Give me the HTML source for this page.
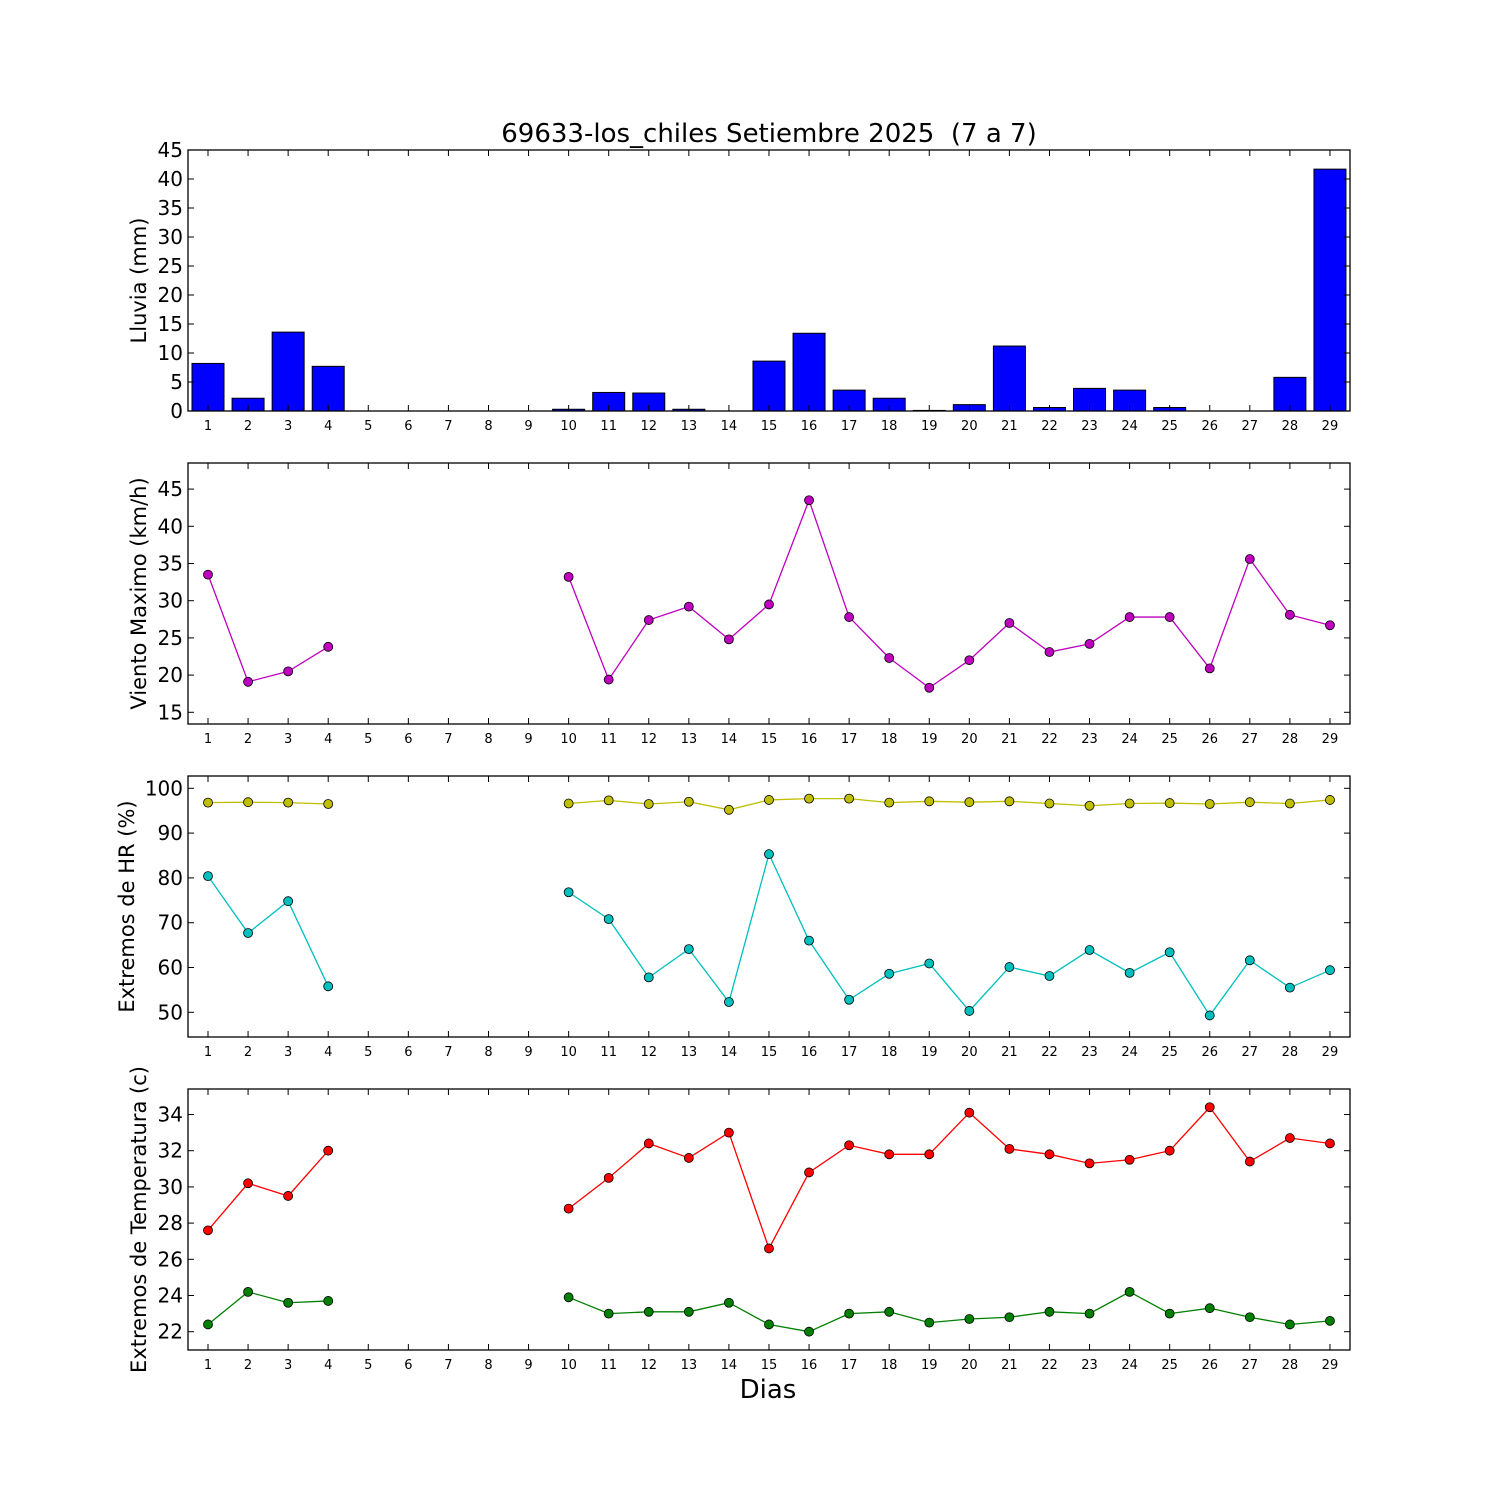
<!DOCTYPE html>
<html><head><meta charset="utf-8"><style>
html,body{margin:0;padding:0;background:#fff;}
svg{display:block;font-family:"DejaVu Sans","Liberation Sans",sans-serif;}
</style></head><body>
<svg id="s" width="1500" height="1500" xmlns="http://www.w3.org/2000/svg"></svg>
<script>
const s=document.getElementById('s');let h='';
const X=d=>208+(d-1)*40.07, L=188,R=1350;
h+='<rect width="1500" height="1500" fill="#fff"/>';
h+='<text x="769" y="142" font-size="26" text-anchor="middle">69633-los_chiles Setiembre 2025 &#160;(7 a 7)</text>';
h+='<text x="768" y="1398" font-size="26" text-anchor="middle">Dias</text>';
function panel(top,bot,ticks,yf,label,lx){
  for(const t of ticks){const y=yf(t);
    h+=`<line x1="${L}" x2="${L+6}" y1="${y}" y2="${y}" stroke="#000"/><line x1="${R-6}" x2="${R}" y1="${y}" y2="${y}" stroke="#000"/>`;
    h+=`<text x="${L-5}" y="${y+7}" font-size="20" text-anchor="end">${t}</text>`;}
  for(let d=1;d<=29;d++){const x=X(d);
    h+=`<line x1="${x}" x2="${x}" y1="${bot}" y2="${bot-6}" stroke="#000"/><line x1="${x}" x2="${x}" y1="${top}" y2="${top+6}" stroke="#000"/>`;
    h+=`<text x="${x}" y="${bot+19}" font-size="13" text-anchor="middle">${d}</text>`;}
  const cy=(top+bot)/2;
  h+=`<text transform="translate(${lx},${cy}) rotate(-90)" font-size="21" text-anchor="middle">${label}</text>`;
}
function frame(top,bot){h+=`<rect x="${L}" y="${top}" width="${R-L}" height="${bot-top}" fill="none" stroke="#000" stroke-width="1.3"/>`;}
function series(data,yf,col){
  const segs=[[],[]];
  data.forEach((v,i)=>{if(v!=null){const d=i+1;(d<=4?segs[0]:segs[1]).push([X(d),yf(v)]);}});
  for(const sg of segs){h+=`<polyline points="${sg.map(p=>p.join(',')).join(' ')}" fill="none" stroke="${col}" stroke-width="1.3"/>`;}
  for(const sg of segs)for(const p of sg)h+=`<circle cx="${p[0]}" cy="${p[1]}" r="4.5" fill="${col}" stroke="#000" stroke-width="0.8"/>`;
}
const N=null;
const rain=[8.2,2.2,13.6,7.7,0,0,0,0,0,0.3,3.2,3.1,0.3,0,8.6,13.4,3.6,2.2,0.1,1.1,11.2,0.6,3.9,3.6,0.6,0,0,5.8,41.7];
const y1=v=>411-v*5.8;
rain.forEach((v,i)=>{if(v>0){const x=X(i+1)-16;h+=`<rect x="${x}" y="${y1(v)}" width="32" height="${v*5.8}" fill="#0000ff" stroke="#000" stroke-width="1"/>`;}});
panel(150,411,[0,5,10,15,20,25,30,35,40,45],y1,'Lluvia (mm)',146);frame(150,411);
const wind=[33.5,19.1,20.5,23.8,N,N,N,N,N,33.2,19.4,27.4,29.2,24.8,29.5,43.5,27.8,22.3,18.3,22,27,23.1,24.2,27.8,27.8,20.9,35.6,28.1,26.7];
const y2=v=>712.3-(v-15)*7.44;
panel(463,724,[15,20,25,30,35,40,45],y2,'Viento Maximo (km/h)',146);
series(wind,y2,'#bf00bf');frame(463,724);
const hmax=[96.8,96.9,96.8,96.5,N,N,N,N,N,96.6,97.3,96.5,97,95.2,97.4,97.7,97.7,96.8,97.1,96.9,97.1,96.6,96.1,96.6,96.7,96.5,96.9,96.6,97.4];
const hmin=[80.4,67.7,74.8,55.8,N,N,N,N,N,76.8,70.8,57.8,64.1,52.3,85.3,66,52.8,58.6,60.9,50.3,60.1,58.1,63.9,58.8,63.4,49.3,61.6,55.5,59.4];
const y3=v=>1012.3-(v-50)*4.48;
panel(776,1037,[50,60,70,80,90,100],y3,'Extremos de HR (%)',134);
series(hmax,y3,'#bfbf00');series(hmin,y3,'#00bfbf');frame(776,1037);
const tmax=[27.6,30.2,29.5,32,N,N,N,N,N,28.8,30.5,32.4,31.6,33,26.6,30.8,32.3,31.8,31.8,34.1,32.1,31.8,31.3,31.5,32,34.4,31.4,32.7,32.4];
const tmin=[22.4,24.2,23.6,23.7,N,N,N,N,N,23.9,23,23.1,23.1,23.6,22.4,22,23,23.1,22.5,22.7,22.8,23.1,23,24.2,23,23.3,22.8,22.4,22.6];
const y4=v=>1331.7-(v-22)*18.1;
panel(1089,1350,[22,24,26,28,30,32,34],y4,'Extremos de Temperatura (c)',146);
series(tmax,y4,'#ff0000');series(tmin,y4,'#008000');frame(1089,1350);
s.innerHTML=h;
</script>
</body></html>
